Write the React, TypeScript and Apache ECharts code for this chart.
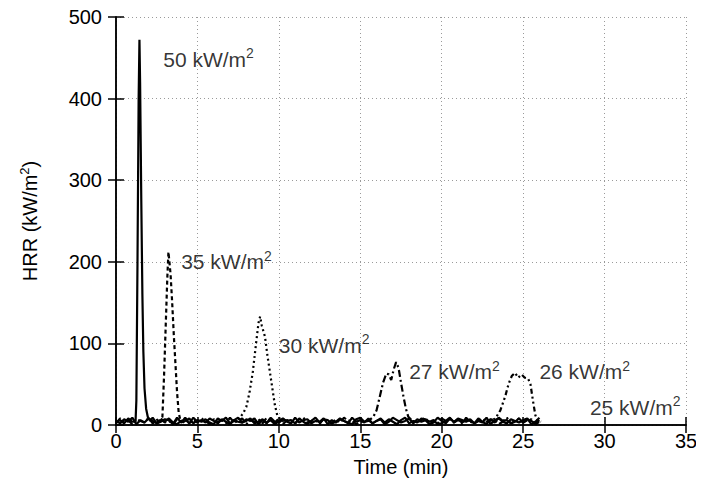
import React, { useEffect, useRef } from 'react';
import * as echarts from 'echarts';

// Time step of the hand-read baseline noise samples (min)
const noiseStep = 0.25;

// Baseline noise (kW/m2) read along the bottom band, 0 .. 26 min
const noise50: number[] = [3,6,2,8,4,1,7,3,5,9,2,6,4,8,3,1,5,7,2,9,4,6,3,8,5,2,7,4,1,6,9,3,5,8,2,4,7,3,6,1,5,8,4,2,9,3,6,7,2,5,4,8,1,6,3,7,5,2,9,4,6,3,8,2,5,7,1,4,9,6,3,5,8,2,7,4,6,1,3,9,5,2,8,4,7,3,6,5,2,8,4,1,7,3,9,5,6,2,4,8,3,7,5,2,6];
const noise25: number[] = [5,2,7,4,9,1,6,3,8,5,2,4,7,6,1,9,3,5,8,2,6,4,7,3,1,8,5,9,2,6,4,3,7,5,8,1,6,2,9,4,3,7,5,6,2,8,4,1,5,9,3,7,6,2,4,8,5,3,1,7,9,4,6,2,5,8,3,7,4,1,6,9,2,5,3,8,7,4,6,1,2,5,9,3,8,6,4,7,2,5,3,9,1,6,8,4,2,7,5,3,6,8,1,4,9];
const noise27: number[] = [2,8,4,6,1,7,5,3,9,2,6,8,3,5,1,7,4,9,2,6,3,8,5,1,7,4,6,2,9,3,5,8,1,6,4,7,2,9,5,3,8,1,6,4,2,7,9,3,5,6,1,8,4,2,7,3,9,5,6,1,4,8,2,7,3,5,9,6,1,4,8,2,5,7,3,6,9,1,4,2,8,5,7,3,6,1,9,4,2,5,8,3,7,6,1,4,9,2,5,8,3,6,7,1,4];

// Peaks: [time (min), HRR (kW/m2)]
const peak50: [number, number][] = [[1.2,4],[1.25,30],[1.32,200],[1.39,400],[1.44,472],[1.48,420],[1.55,280],[1.62,160],[1.68,90],[1.75,45],[1.85,20],[1.95,10],[2.1,5]];
const peak35: [number, number][] = [[2.5,4],[2.7,6],[2.85,10],[2.95,60],[3.05,120],[3.15,180],[3.22,212],[3.28,200],[3.35,185],[3.45,150],[3.55,110],[3.65,75],[3.75,40],[3.85,15],[3.95,6],[4.2,3]];
const peak30: [number, number][] = [[7.2,4],[7.4,6],[7.6,9],[7.8,14],[8.0,22],[8.2,40],[8.4,65],[8.6,100],[8.75,125],[8.85,133],[8.95,122],[9.05,115],[9.15,108],[9.3,85],[9.45,65],[9.6,45],[9.75,25],[9.9,12],[10.1,7],[10.3,4]];
const peak27: [number, number][] = [[15.2,4],[15.5,5],[15.8,10],[16.0,18],[16.2,35],[16.4,52],[16.6,63],[16.75,62],[16.9,55],[17.05,68],[17.2,77],[17.35,70],[17.5,52],[17.65,35],[17.8,20],[17.95,10],[18.2,5],[18.5,3]];
const peak26: [number, number][] = [[22.7,4],[23.0,5],[23.3,8],[23.6,18],[23.9,35],[24.1,50],[24.3,60],[24.5,64],[24.7,58],[24.9,62],[25.1,58],[25.3,57],[25.45,50],[25.6,30],[25.75,12],[25.9,5],[26.1,4]];

// Curve labels: heat flux text and anchor [time, HRR]
const labelFlux = ['50', '35', '30', '27', '26', '25'];
const labelTime = [2.9, 4.0, 10.0, 18.0, 26.0, 29.1];
const labelHRR = [448, 200, 98, 65, 65, 22];

const xTickMin = 0, xTickMax = 35, xTickStep = 5;
const yTickMin = 0, yTickMax = 500, yTickStep = 100;

function merge(noise: number[], peak: [number, number][]): [number, number][] {
  const lo = peak.length ? peak[0][0] : Infinity;
  const hi = peak.length ? peak[peak.length - 1][0] : -Infinity;
  const pts: [number, number][] = [];
  noise.forEach((v, i) => {
    const t = i * noiseStep;
    if (t < lo || t > hi) pts.push([t, v]);
  });
  return pts.concat(peak).sort((a, b) => a[0] - b[0]);
}

const FONT = 'Liberation Sans';

export default function App() {
  const ref = useRef<HTMLDivElement>(null);
  useEffect(() => {
    if (!ref.current) return;
    const chart = echarts.init(ref.current, undefined, { renderer: 'svg' });
    const axisLine = { show: true, lineStyle: { color: '#000', width: 1.5 } };
    const tick = { show: true, inside: true, length: 8, lineStyle: { color: '#000', width: 1.5 } };
    const split = { show: true, lineStyle: { color: '#9a9a9a', width: 1, type: [1, 3] as any } };
    const richAxis = {
      n: { fontSize: 20, fontFamily: FONT, color: '#000', lineHeight: 24 },
      sup: { fontSize: 13, fontFamily: FONT, color: '#000', verticalAlign: 'top' as any, lineHeight: 14 },
    };
    const richLabel = {
      n: { fontSize: 21, fontFamily: FONT, color: '#000', lineHeight: 26 },
      sup: { fontSize: 14, fontFamily: FONT, color: '#000', verticalAlign: 'top' as any, lineHeight: 15 },
    };
    const line = (data: [number, number][], type: any, width = 2) => ({
      type: 'line', data, showSymbol: false, symbol: 'none',
      lineStyle: { color: '#000', width, type }, z: 3,
    });
    chart.setOption({
      animation: false,
      textStyle: { fontFamily: FONT },
      grid: { left: 116, right: 18, top: 17, bottom: 68 },
      xAxis: [
        {
          type: 'value', min: xTickMin, max: xTickMax, interval: xTickStep,
          name: 'Time (min)', nameLocation: 'middle', nameGap: 32,
          nameTextStyle: { fontSize: 20, color: '#000', fontFamily: FONT },
          axisLine, axisTick: tick, splitLine: split,
          axisLabel: { fontSize: 20, color: '#000', margin: 6, fontFamily: FONT },
        },
        {
          type: 'value', position: 'top', min: xTickMin, max: xTickMax, interval: xTickStep,
          axisLine, axisTick: tick, splitLine: { show: false }, axisLabel: { show: false },
        },
      ],
      yAxis: [
        {
          type: 'value', min: yTickMin, max: yTickMax, interval: yTickStep,
          name: '{n|HRR (kW/m}{sup|2}{n|)}', nameLocation: 'middle', nameGap: 74,
          nameTextStyle: { fontSize: 20, color: '#000', fontFamily: FONT, rich: richAxis },
          axisLine, axisTick: tick, splitLine: split,
          axisLabel: { fontSize: 20, color: '#000', margin: 14, fontFamily: FONT },
        },
        {
          type: 'value', position: 'right', min: yTickMin, max: yTickMax, interval: yTickStep,
          axisLine, axisTick: tick, splitLine: { show: false }, axisLabel: { show: false },
        },
      ],
      series: [
        line(merge(noise25, []), 'solid', 2.2),
        line(merge(noise50, peak50), 'solid', 2.2),
        line(peak35, [4, 3], 2.2),
        line(peak30, [2, 3], 2.2),
        line(merge(noise27, peak27), [7, 3, 2, 3], 2.2),
        line(peak26, [5, 3, 2, 3, 2, 3], 2.2),
        {
          type: 'scatter', symbolSize: 0, z: 5,
          data: labelFlux.map((f, i) => ({ value: [labelTime[i], labelHRR[i]], name: f })),
          label: {
            show: true, position: 'right', distance: 0, color: '#000',
            formatter: (p: any) => `{n|${p.name} kW/m}{sup|2}`,
            rich: richLabel,
          },
        },
      ],
    });
    return () => chart.dispose();
  }, []);
  return <div ref={ref} style={{ width: 704, height: 493, margin: -8 }} />;
}
